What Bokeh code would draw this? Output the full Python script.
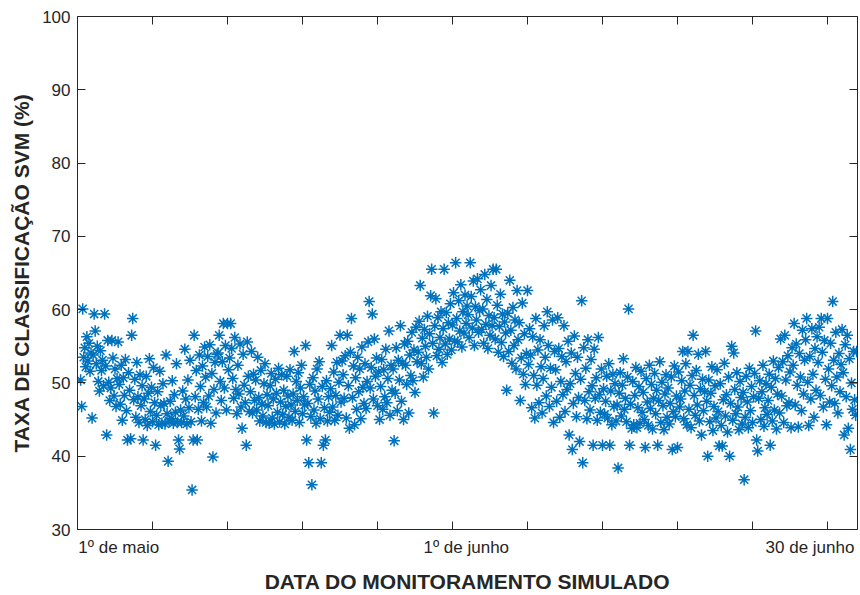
import numpy as np
from bokeh.plotting import figure
from bokeh.models import ColumnDataSource, FixedTicker, LinearAxis, Range1d
from bokeh.embed import file_html
from bokeh.resources import INLINE

# Taxa de classificação SVM (%) — uma amostra a cada 2 h a partir de 1º de maio, 06:00
taxa_maio = [
    50.4, 46.8, 60.1, 53.5, 54.8, 52.2, 56.3, 53.0, 55.4, 51.6, 54.1, 45.2,
    53.8, 59.4, 57.1, 52.6, 55.0, 50.2, 48.9, 54.4, 51.7, 53.1, 49.6, 59.4,
    52.3, 42.9, 55.8, 50.1, 47.6, 49.3, 55.8, 53.4, 48.2, 51.9, 46.8, 50.6,
    55.6, 49.8, 47.1, 52.4, 44.9, 50.7, 48.3, 53.2, 46.2, 42.2, 51.4, 49.0,
    42.4, 56.5, 58.8, 47.7, 50.5, 45.3, 52.8, 48.1, 44.6, 51.1, 46.9, 49.6,
    42.2, 47.8, 45.0, 50.9, 44.2, 48.6, 53.3, 46.1, 49.4, 44.7, 52.1, 47.3,
    41.5, 45.6, 48.8, 44.3, 51.6, 46.9, 44.5, 49.9, 47.2, 44.4, 53.8, 45.8,
    39.3, 44.8, 47.5, 45.1, 50.3, 44.5, 48.4, 46.0, 52.6, 44.6, 42.2, 41.0,
    46.3, 44.6, 48.9, 45.5, 54.6, 47.8, 44.4, 50.4, 46.6, 53.1, 44.7, 35.4,
    42.2, 56.5, 48.1, 51.7, 42.2, 46.4, 53.8, 49.5, 44.8, 52.3, 47.3, 54.9,
    50.8, 46.7, 53.6, 48.2, 55.2, 44.5, 51.3, 39.9, 49.1, 52.8, 45.9, 53.9,
    54.1, 56.5, 50.2, 47.6, 52.9, 58.1, 49.3, 55.1, 46.3, 58.1, 51.8, 53.4,
    58.1, 54.7, 50.6, 47.9, 56.2, 49.1, 45.8, 52.4, 48.5, 55.3, 46.7, 43.8,
    53.9, 49.7, 47.3, 41.5, 55.6, 50.9, 46.1, 48.8, 54.3, 45.9, 51.2, 47.6,
    50.4, 46.3, 53.5, 48.0, 44.8, 51.7, 47.1, 45.5, 49.9, 52.6, 44.6, 48.4,
    46.9, 44.5, 49.6, 51.3, 45.2, 47.8, 44.4, 50.5, 48.6, 46.0, 52.0, 44.7,
    47.4, 51.1, 45.7, 49.0, 44.4, 46.8, 50.9, 48.2, 45.3, 51.8, 47.0, 44.9,
    48.5, 54.3, 46.1, 50.2, 47.6, 51.4, 44.6, 49.3, 52.4, 45.8, 48.1, 47.0,
    55.1, 42.2, 47.2, 39.1, 49.8, 45.4, 36.1, 50.7, 46.3, 48.9, 44.5, 51.9,
    47.8, 52.9, 45.1, 39.1, 49.5, 41.5, 46.6, 42.2, 50.3, 44.8, 48.1, 46.0,
    49.2, 55.1, 46.7, 51.5, 44.9, 48.3, 52.8, 45.6, 50.1, 56.5, 47.4, 53.0,
    51.1, 47.9, 53.7, 45.2, 56.5, 49.6, 43.8, 54.2, 58.8, 48.0, 52.3, 44.3,
    50.7, 46.4, 53.5, 48.8, 51.9, 45.1, 54.9, 49.4, 47.2, 52.6, 46.5, 50.2,
    55.6, 61.1, 49.3, 52.1, 59.4, 47.8, 56.0, 50.9, 53.4, 46.9, 51.5, 45.0,
    49.5, 53.2, 46.4, 51.8, 48.1, 54.6, 47.3, 50.6, 57.1, 45.6, 52.4, 49.0,
    51.9, 42.1, 48.6, 54.8, 46.2, 53.1, 50.4, 57.8, 47.5, 52.7, 45.0, 55.3,
    52.4, 49.8, 55.7, 45.9, 53.8, 51.0, 56.9, 50.3, 54.5, 48.7, 57.6, 52.9,
    54.2, 58.4, 63.3, 52.6, 56.1, 50.8, 57.3, 55.0, 53.5, 59.1, 51.9, 56.7,
    61.9, 65.5, 55.4, 45.9, 57.8, 61.5, 53.7, 58.9, 54.6, 56.2, 59.7, 52.8,
    57.4, 65.5, 55.3, 59.6, 53.9, 58.2, 56.0, 60.8, 54.5, 57.9, 62.3, 55.7,
    66.4, 58.8, 55.6, 61.2, 57.1, 63.4, 54.9, 59.7, 56.8, 62.0, 58.1, 60.5,
]

taxa_junho = [
    59.3, 56.2, 66.4, 61.8, 57.5, 63.9, 55.1, 60.4, 58.6, 64.2, 56.9, 59.9,
    62.7, 57.3, 60.1, 55.4, 64.8, 58.0, 61.4, 54.7, 59.2, 56.5, 63.3, 57.8,
    65.5, 58.9, 56.0, 65.5, 60.6, 54.2, 57.7, 62.1, 55.5, 59.4, 53.6, 58.3,
    56.8, 49.0, 59.5, 54.3, 64.0, 57.2, 52.7, 60.3, 55.1, 58.6, 51.9, 62.6,
    55.9, 58.2, 47.6, 53.4, 60.9, 51.2, 56.7, 49.8, 54.0, 62.6, 52.5, 57.4,
    53.8, 46.6, 56.3, 51.0, 45.2, 58.8, 49.7, 54.5, 47.3, 55.9, 52.2, 45.9,
    50.6, 57.8, 53.5, 48.2, 59.7, 55.1, 46.8, 52.0, 49.4, 58.6, 44.6, 54.3,
    51.8, 47.5, 58.9, 54.7, 45.3, 50.2, 53.6, 48.4, 57.8, 46.1, 52.9, 49.1,
    55.7, 42.9, 49.9, 54.1, 40.9, 47.2, 56.4, 51.3, 45.4, 53.5, 48.0, 42.0,
    50.5, 61.2, 39.1, 54.8, 47.6, 52.0, 45.1, 55.9, 48.8, 46.3, 53.2, 49.6,
    41.5, 54.6, 47.9, 50.7, 44.9, 56.2, 48.4, 46.0, 51.9, 41.5, 49.2, 45.7,
    47.5, 50.9, 45.2, 52.6, 41.5, 48.9, 44.3, 51.2, 46.8, 49.9, 44.8, 47.0,
    38.4, 48.6, 51.4, 45.5, 49.7, 53.3, 46.4, 47.9, 44.7, 50.8, 60.1, 41.5,
    47.1, 43.8, 50.2, 44.3, 48.3, 52.1, 43.9, 46.6, 49.5, 44.5, 51.6, 46.0,
    48.7, 45.0, 41.2, 50.6, 47.4, 44.2, 52.4, 46.5, 49.8, 43.7, 47.9, 51.3,
    45.8, 49.0, 41.5, 47.6, 52.9, 44.6, 50.1, 46.9, 43.6, 48.5, 51.1, 45.3,
    49.3, 44.4, 47.2, 50.8, 40.9, 46.1, 52.3, 45.4, 48.2, 41.2, 51.5, 46.7,
    47.8, 50.3, 54.3, 45.1, 48.9, 52.6, 44.3, 54.3, 46.4, 49.7, 43.9, 51.0,
    56.5, 48.3, 45.6, 51.7, 47.0, 53.9, 44.8, 49.2, 42.9, 50.5, 46.2, 48.8,
    54.3, 47.5, 40.0, 50.4, 44.7, 48.6, 52.2, 43.5, 46.8, 49.6, 45.2, 51.8,
    46.1, 41.4, 49.9, 44.2, 41.4, 47.7, 52.7, 45.5, 48.4, 43.3, 50.8, 40.0,
    47.2, 55.0, 44.9, 54.1, 49.1, 45.8, 51.4, 46.7, 43.6, 50.2, 48.0, 44.4,
    48.7, 36.8, 45.3, 50.9, 47.4, 43.9, 52.0, 46.2, 49.5, 44.6, 48.1, 51.3,
    57.1, 42.2, 40.7, 47.9, 50.3, 45.0, 48.8, 52.4, 44.1, 46.6, 49.9, 45.7,
    47.6, 51.2, 41.5, 49.4, 44.8, 53.0, 46.3, 50.6, 43.7, 48.5, 52.1, 45.9,
    56.0, 48.2, 52.9, 44.6, 56.5, 50.4, 46.9, 53.7, 47.3, 51.5, 43.9, 54.8,
    52.4, 58.1, 47.0, 55.3, 49.7, 44.0, 54.0, 50.8, 46.2, 57.2, 48.5, 53.1,
    55.9, 58.8, 50.1, 44.2, 53.6, 47.8, 57.4, 51.2, 45.3, 54.7, 49.0, 56.3,
    52.8, 57.6, 48.3, 58.8, 54.2, 46.7, 55.8, 50.5, 44.3, 58.8, 51.9, 47.4,
    55.4, 49.6, 61.1, 53.1, 47.2, 56.9, 50.8, 45.9, 54.0, 48.8, 52.5, 57.3,
]

taxa_julho = [
    51.4, 42.9, 55.2, 48.1, 56.5, 43.8, 53.3, 40.9, 50.0, 46.4, 54.3, 47.7,
    45.6, 54.3,
]

inicio_h = 6      # hora da primeira amostra em 1º de maio
passo_h = 2       # intervalo entre amostras (h)

# eixo x: dias decorridos desde 1º de maio, 00:00
rotulos_x = ["1º de maio", "1º de junho", "30 de junho"]
pos_rotulos_x = [3.3, 31.1, 58.6]
marcas_x = [0, 6, 12, 18, 24, 30, 36, 42, 48, 54, 60]
marcas_y = [30, 40, 50, 60, 70, 80, 90, 100]

taxa = taxa_maio + taxa_junho + taxa_julho
dias = (inicio_h + passo_h * np.arange(len(taxa))) / 24.0
src = ColumnDataSource(data=dict(dia=dias, taxa=taxa))

AZUL = "#0072BD"
CINZA = "#262626"
FONTE = "Liberation Sans"

p = figure(
    width=860, height=595,
    x_range=Range1d(0, 62.4), y_range=Range1d(30, 100),
    output_backend="svg", toolbar_location=None,
    min_border_left=77, min_border_right=3,
    min_border_top=16, min_border_bottom=63,
    background_fill_color="white", border_fill_color="white",
)
p.outline_line_color = None
p.grid.visible = False

p.scatter(x="dia", y="taxa", source=src, marker="asterisk",
          size=11.5, line_color=AZUL, line_width=1.5)

# eixo x inferior: marcas semanais + rótulos de datas
xa = p.xaxis[0]
xa.ticker = FixedTicker(ticks=pos_rotulos_x, minor_ticks=marcas_x)
xa.major_label_overrides = {t: r for t, r in zip(pos_rotulos_x, rotulos_x)}
xa.major_tick_in = 0
xa.major_tick_out = 0
xa.minor_tick_in = 8
xa.minor_tick_out = 0
xa.minor_tick_line_color = CINZA
xa.axis_line_color = CINZA
xa.major_label_standoff = 8
xa.major_label_text_font = FONTE
xa.major_label_text_font_size = "17px"
xa.major_label_text_color = CINZA
xa.axis_label = "DATA DO MONITORAMENTO SIMULADO"
xa.axis_label_text_font = FONTE
xa.axis_label_text_font_size = "21px"
xa.axis_label_text_font_style = "bold"
xa.axis_label_text_color = CINZA
xa.axis_label_standoff = 10

# eixo y esquerdo
ya = p.yaxis[0]
ya.ticker = FixedTicker(ticks=marcas_y, minor_ticks=[])
ya.major_tick_in = 8
ya.major_tick_out = 0
ya.major_tick_line_color = CINZA
ya.axis_line_color = CINZA
ya.major_label_standoff = 7
ya.major_label_text_font = FONTE
ya.major_label_text_font_size = "17px"
ya.major_label_text_color = CINZA
ya.axis_label = "TAXA DE CLASSIFICAÇÃO SVM (%)"
ya.axis_label_text_font = FONTE
ya.axis_label_text_font_size = "21px"
ya.axis_label_text_font_style = "bold"
ya.axis_label_text_color = CINZA
ya.axis_label_standoff = 6

# caixa: eixos superior e direito só com marcas (sem rótulos)
topo = LinearAxis(ticker=FixedTicker(ticks=[], minor_ticks=marcas_x),
                  major_label_standoff=0,
                  major_tick_in=0, major_tick_out=0,
                  minor_tick_in=8, minor_tick_out=0,
                  minor_tick_line_color=CINZA, axis_line_color=CINZA)
direita = LinearAxis(ticker=FixedTicker(ticks=[], minor_ticks=marcas_y),
                     major_label_standoff=0,
                     major_tick_in=0, major_tick_out=0,
                     minor_tick_in=8, minor_tick_out=0,
                     minor_tick_line_color=CINZA, axis_line_color=CINZA)
p.add_layout(topo, "above")
p.add_layout(direita, "right")

open("out.html", "w").write(file_html(p, INLINE))
